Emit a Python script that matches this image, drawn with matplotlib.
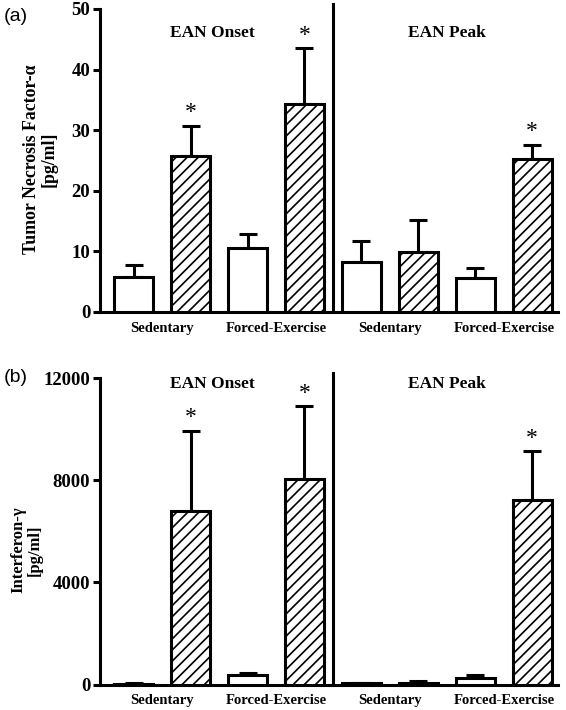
import numpy as np
import matplotlib
matplotlib.use("Agg")
import matplotlib.pyplot as plt

plt.rcParams['font.family'] = ['Liberation Serif', 'DejaVu Serif']
plt.rcParams['font.weight'] = 'bold'
plt.rcParams['hatch.linewidth'] = 1.2

groupLabels = ['Sedentary', 'Forced-Exercise', 'Sedentary', 'Forced-Exercise']
phaseLabels = ['EAN Onset', 'EAN Peak']
hatched = [False, True, False, True, False, True, False, True]

tnfMean = [5.7, 25.8, 10.6, 34.3, 8.2, 9.95, 5.66, 25.2]
tnfErr = [2.05, 4.9, 2.2, 9.2, 3.5, 5.25, 1.65, 2.4]
tnfStars = [1, 3, 7]

ifnMean = [30, 6800, 360, 8050, 45, 60, 250, 7250]
ifnErr = [15, 3150, 80, 2850, 30, 90, 110, 1900]
ifnStars = [1, 3, 7]

fig = plt.figure(figsize=(5.66, 7.10), dpi=100)
axA = fig.add_axes([0.1767, 0.5606, 0.809, 0.4268])
axB = fig.add_axes([0.1767, 0.0359, 0.809, 0.4313])


def drawPanel(ax, means, errs, stars, ymax, yticks, phaseY):
    x = np.arange(len(means))
    for i in range(len(means)):
        ax.bar(x[i], means[i], width=0.68, color='white', edgecolor='black',
               linewidth=2.2, hatch='///' if hatched[i] else None, zorder=3)
    ax.errorbar(x, means, yerr=[np.zeros(len(errs)), errs], fmt='none',
                ecolor='black', elinewidth=2.2, capsize=6.5, capthick=2.2, zorder=2)
    for i in stars:
        ax.text(x[i], means[i] + errs[i] + ymax * 0.008, '*', ha='center',
                va='bottom', fontsize=17, fontweight='normal')
    ax.set_xlim(-0.59, 7.45)
    ax.set_ylim(0, ymax)
    ax.set_yticks(yticks)
    ax.set_xticks([0.5, 2.5, 4.5, 6.5])
    ax.set_xticklabels(groupLabels, fontsize=10.5)
    ax.tick_params(axis='x', length=0, pad=7)
    ax.tick_params(axis='y', direction='out', length=5, width=2.2, labelsize=13.5, pad=2)
    for s in ['top', 'right']:
        ax.spines[s].set_visible(False)
    for s in ['left', 'bottom']:
        ax.spines[s].set_linewidth(2.2)
    ax.plot([3.5, 3.5], [0, ymax * 1.017], color='black', lw=2.2, clip_on=False)
    ax.text(1.38, phaseY, phaseLabels[0], ha='center', va='center', fontsize=12.5)
    ax.text(5.5, phaseY, phaseLabels[1], ha='center', va='center', fontsize=12.5)


drawPanel(axA, tnfMean, tnfErr, tnfStars, 50, [0, 10, 20, 30, 40, 50], 46)
drawPanel(axB, ifnMean, ifnErr, ifnStars, 12000, [0, 4000, 8000, 12000], 11790)

# y labels and panel tags
fig.text(0.0707, 0.776, 'Tumor Necrosis Factor-\u03b1\n[pg/ml]', rotation=90,
         ha='center', va='center', multialignment='center', fontsize=12.8,
         linespacing=1.05)
fig.text(0.0468, 0.2254, 'Interferon-\u03b3\n[pg/ml]', rotation=90,
         ha='center', va='center', multialignment='center', fontsize=12,
         linespacing=1.0)
fig.text(0.006, 0.977, '(a)', ha='left', va='center', fontsize=14,
         fontweight='normal', family='Liberation Sans')
fig.text(0.006, 0.469, '(b)', ha='left', va='center', fontsize=14,
         fontweight='normal', family='Liberation Sans')

fig.savefig('out.png', dpi=100)
